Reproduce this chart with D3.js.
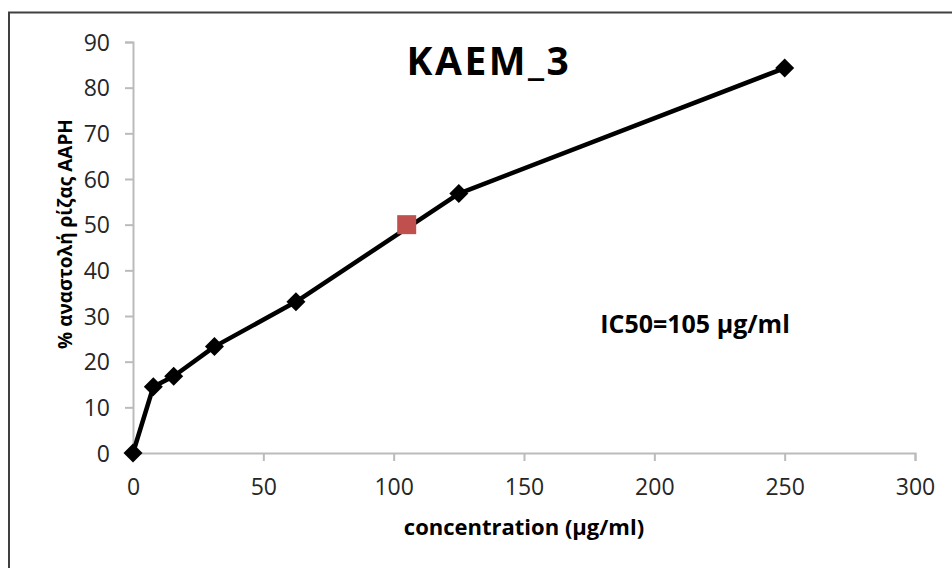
<!DOCTYPE html>
<html><head><meta charset="utf-8">
<script src="https://cdn.jsdelivr.net/npm/d3@7"></script>
<style>body{margin:0;background:#fff}svg{display:block}</style>
</head><body>
<script>
const concentrations = [0, 7.8, 15.6, 31.25, 62.5, 125, 250];
const inhibition = [0, 14.5, 16.8, 23.3, 33.1, 56.8, 84.3];
const ic50Point = [{x: 105, y: 50}];
const xTicks = [0, 50, 100, 150, 200, 250, 300];
const yTicks = [0, 10, 20, 30, 40, 50, 60, 70, 80, 90];
const title = "KAEM_3";
const xLabel = "concentration (µg/ml)";
const yLabel = "% αναστολή ρίζας AAPH";
const note = "IC50=105 µg/ml";

const W = 952, H = 568;
const font = "'Open Sans', Lato, sans-serif";
const svg = d3.select("body").append("svg").attr("width", W).attr("height", H);

// frame
svg.append("path").attr("d", `M9,${H+2} V12.5 H${W+2}`).attr("fill","none").attr("stroke","#404040").attr("stroke-width",2);

const x = d3.scaleLinear().domain([0,300]).range([133,915]);
const y = d3.scaleLinear().domain([0,90]).range([453,42]);

const axisColor = "#bbbbbb";
const gx = svg.append("g").attr("transform","translate(0,453)")
  .call(d3.axisBottom(x).tickValues(xTicks).tickSize(8).tickPadding(18));
const gy = svg.append("g").attr("transform","translate(133,0)")
  .call(d3.axisLeft(y).tickValues(yTicks).tickSize(8).tickPadding(15));
[gx, gy].forEach(g => {
  g.select(".domain").attr("stroke", axisColor).attr("stroke-width", 2);
  g.selectAll(".tick line").attr("stroke", axisColor).attr("stroke-width", 2);
  g.selectAll(".tick text").attr("fill","#262626").style("font-family", font).style("font-size","23px");
});
gy.selectAll(".tick text").attr("dy","0.36em");

const pts = concentrations.map((c,i)=>({x:c,y:inhibition[i]}));
svg.append("path").datum(pts)
  .attr("d", d3.line().x(d=>x(d.x)).y(d=>y(d.y)))
  .attr("fill","none").attr("stroke","#000").attr("stroke-width",4.5).attr("stroke-linejoin","round");

svg.selectAll(".mk").data(pts).join("path")
  .attr("transform", d=>`translate(${x(d.x)},${y(d.y)})`)
  .attr("d", "M0,-9.5 L9.5,0 L0,9.5 L-9.5,0 Z").attr("fill","#000");

svg.selectAll(".ic").data(ic50Point).join("rect")
  .attr("x", d=>x(d.x)-9.5).attr("y", d=>y(d.y)-9.5).attr("width",19).attr("height",19)
  .attr("fill","#c0504d");

svg.append("text").attr("x",489).attr("y",75).attr("text-anchor","middle")
  .style("font-family",font).style("font-weight","bold").style("font-size","39px")
  .style("letter-spacing","2.5px").attr("fill","#000").text(title);

svg.append("text").attr("x",695).attr("y",333).attr("text-anchor","middle")
  .style("font-family",font).style("font-weight","bold").style("font-size","25px").attr("fill","#000").text(note);

svg.append("text").attr("x",524).attr("y",535).attr("text-anchor","middle")
  .style("font-family",font).style("font-weight","bold").style("font-size","22px").attr("fill","#000").text(xLabel);

svg.append("text").attr("transform","translate(72,234) rotate(-90)").attr("text-anchor","middle")
  .style("font-family",font).style("font-weight","bold").style("font-size","19px").attr("fill","#000").text(yLabel);
</script>
</body></html>
